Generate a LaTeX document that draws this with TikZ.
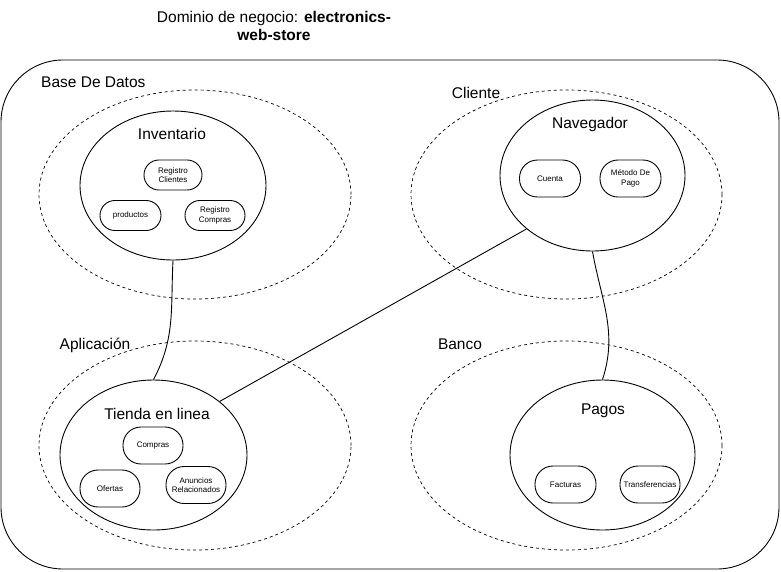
\documentclass[tikz,border=0pt]{standalone}
\usepackage{fontspec}
\setmainfont{Liberation Sans}
\usetikzlibrary{shapes.geometric,positioning,calc}

\begin{document}
\begin{tikzpicture}[x=1pt, y=-1pt,
	zona/.style={draw, dashed, dash pattern=on 3pt off 3pt, line width=0.7pt, ellipse, inner sep=0pt},
	modulo/.style={draw, line width=0.9pt, ellipse, inner sep=0pt},
	pill/.style={draw, line width=0.9pt, rectangle, rounded corners=18pt, inner sep=0pt,
		minimum width=61pt, minimum height=37pt, align=center, font=\fontsize{8}{9.5}\selectfont},
	pillS/.style={pill, rounded corners=14.9pt, minimum height=30pt},
	etiq/.style={font=\fontsize{15.5}{18}\selectfont, inner sep=0pt},
	etiqR/.style={etiq, text height=11.2pt, text depth=3.3pt, yshift=-2pt},
	enlace/.style={line width=0.9pt}
	]

	\useasboundingbox (0,0) rectangle (781,571);

	% titulo
	\node[etiq, align=center] (titulo) at (274,25.5)
		{Dominio de negocio: \textbf{electronics-}\\\textbf{web-store}};

	% marco
	\draw[line width=0.9pt, rounded corners=62pt] (1,60) rectangle (779,569);
	\node[etiqR, anchor=west] (lbd) at (41,82) {Base De Datos};

	% zonas
	\node[zona, minimum width=312pt, minimum height=209pt] (zbd) at (195,194.5) {};
	\node[zona, minimum width=311pt, minimum height=209pt] (zcli) at (566.5,194.5) {};
	\node[zona, minimum width=312pt, minimum height=209pt] (zapp) at (195,445.5) {};
	\node[zona, minimum width=311pt, minimum height=209pt] (zban) at (566.5,445.5) {};

	\node[etiqR] (lcli) at (476,93) {Cliente};
	\node[etiqR] (lapp) at (95,344) {Aplicación};
	\node[etiqR] (lban) at (460,344) {Banco};

	% modulos
	\node[modulo, minimum width=186pt, minimum height=149pt] (inv) at (173,185.5) {};
	\node[modulo, minimum width=185pt, minimum height=151pt] (nav) at (592.5,175.5) {};
	\node[modulo, minimum width=187pt, minimum height=150pt] (tie) at (153.5,455) {};
	\node[modulo, minimum width=185pt, minimum height=150pt] (pag) at (602.5,455) {};

	\node[etiqR] (linv) at (172,134) {Inventario};
	\node[etiqR] (lnav) at (590,123) {Navegador};
	\node[etiqR] (ltie) at (157,414) {Tienda en linea};
	\node[etiqR] (lpag) at (603,409) {Pagos};

	% Inventario
	\node[pillS, minimum width=58pt] (regcli) at (173,175) {Registro\\Clientes};
	\node[pillS] (prod) at (130.5,215.5) {productos};
	\node[pillS, minimum width=60pt] (regcom) at (215,215.5) {Registro\\Compras};

	% Navegador
	\node[pill] (cuenta) at (550,178.5) {Cuenta};
	\node[pill] (metodo) at (630.5,178.5) {Método De\\Pago};

	% Tienda en linea
	\node[pill, minimum width=60pt] (compras) at (153,445.5) {Compras};
	\node[pill, minimum width=60pt] (ofertas) at (110,488.5) {Ofertas};
	\node[pill, minimum width=60pt] (anuncios) at (196,485) {Anuncios\\Relacionados};

	% Pagos
	\node[pill] (facturas) at (565.5,484.5) {Facturas};
	\node[pill, minimum width=60pt] (transf) at (650,484.5) {Transferencias};

	% enlaces
	\draw[enlace] (inv.south) to[out=-93, in=62] (tie.north);
	\draw[enlace] (nav.219) -- (tie.39);
	\draw[enlace] (nav.south) to[out=-80, in=72] (pag.north);

\end{tikzpicture}
\end{document}
